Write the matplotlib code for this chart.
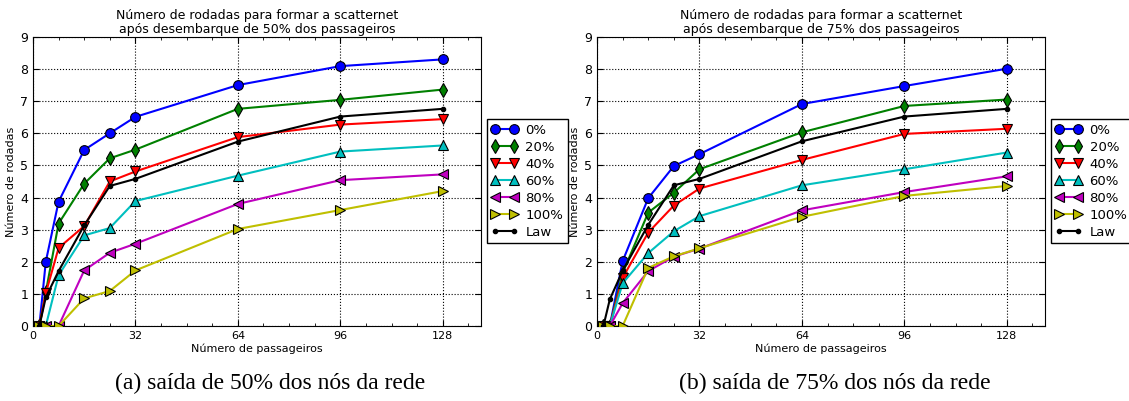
import matplotlib
matplotlib.use('Agg')
import matplotlib.pyplot as plt
from matplotlib.ticker import MultipleLocator

passageiros = [2, 4, 8, 16, 24, 32, 64, 96, 128]
series_labels = ['0%', '20%', '40%', '60%', '80%', '100%', 'Law']

# saida de 50% dos nos
rodadas_50 = {
    '0%':   [0, 2.00, 3.87, 5.48, 6.00, 6.51, 7.50, 8.09, 8.30],
    '20%':  [0, 1.05, 3.19, 4.43, 5.22, 5.49, 6.76, 7.04, 7.36],
    '40%':  [0, 1.02, 2.43, 3.11, 4.50, 4.81, 5.88, 6.27, 6.44],
    '60%':  [0, 0.00, 1.58, 2.82, 3.05, 3.89, 4.68, 5.43, 5.62],
    '80%':  [0, 0.00, 0.00, 1.73, 2.28, 2.56, 3.80, 4.54, 4.72],
    '100%': [0, 0.00, 0.00, 0.86, 1.09, 1.73, 3.02, 3.61, 4.20],
    'Law':  [0, 0.89, 1.71, 3.13, 4.36, 4.58, 5.74, 6.52, 6.76],
}

# saida de 75% dos nos
rodadas_75 = {
    '0%':   [0, 0.00, 2.02, 3.98, 4.98, 5.35, 6.91, 7.47, 8.01],
    '20%':  [0, 0.00, 1.65, 3.53, 4.15, 4.88, 6.03, 6.85, 7.05],
    '40%':  [0, 0.00, 1.50, 2.91, 3.75, 4.28, 5.17, 5.98, 6.14],
    '60%':  [0, 0.00, 1.33, 2.27, 2.95, 3.42, 4.38, 4.88, 5.40],
    '80%':  [0, 0.00, 0.71, 1.71, 2.16, 2.41, 3.60, 4.17, 4.66],
    '100%': [0, 0.00, 0.00, 1.81, 2.17, 2.42, 3.40, 4.05, 4.36],
    'Law':  [0, 0.83, 1.72, 3.15, 4.38, 4.58, 5.75, 6.52, 6.76],
}

titulos = ['Número de rodadas para formar a scatternet\napós desembarque de 50% dos passageiros',
           'Número de rodadas para formar a scatternet\napós desembarque de 75% dos passageiros']
legendas = ['(a) saída de 50% dos nós da rede', '(b) saída de 75% dos nós da rede']

cores = {'0%': '#0000ff', '20%': '#008000', '40%': '#ff0000', '60%': '#00bfbf',
         '80%': '#bf00bf', '100%': '#bfbf00', 'Law': '#000000'}
marcadores = {'0%': 'o', '20%': 'd', '40%': 'v', '60%': '^', '80%': '<', '100%': '>', 'Law': '.'}

plt.rcParams['font.family'] = ['DejaVu Sans']
plt.rcParams['xtick.direction'] = 'in'
plt.rcParams['ytick.direction'] = 'in'
plt.rcParams['xtick.top'] = True
plt.rcParams['ytick.right'] = True

fig = plt.figure(figsize=(11.29, 4.01), dpi=100)
axes = [fig.add_axes([0.0292, 0.187, 0.397, 0.721]),
        fig.add_axes([0.5288, 0.187, 0.397, 0.721])]

for ax, dados, titulo, legenda in zip(axes, [rodadas_50, rodadas_75], titulos, legendas):
    for nome in series_labels:
        if nome == 'Law':
            ax.plot(passageiros, dados[nome], color=cores[nome], marker='.', ms=6,
                    lw=1.5, label=nome, zorder=3)
        else:
            ax.plot(passageiros, dados[nome], color=cores[nome], marker=marcadores[nome],
                    ms=7, mec='black', mew=0.8, lw=1.5, label=nome, zorder=3)
    ax.set_xlim(0, 140)
    ax.set_ylim(0, 9)
    ax.set_xticks([0, 32, 64, 96, 128])
    ax.xaxis.set_minor_locator(MultipleLocator(8))
    ax.set_yticks(range(10))
    ax.tick_params(which='major', length=4, labelsize=8)
    ax.tick_params(which='minor', length=2)
    ax.tick_params(axis='y', labelsize=9)
    ax.grid(True, color='black', linestyle=':', linewidth=0.8)
    ax.set_title(titulo, fontsize=9, linespacing=1.1, pad=3)
    ax.set_xlabel('Número de passageiros', fontsize=8, labelpad=2)
    ax.set_ylabel('Número de rodadas', fontsize=8, labelpad=3)
    ax.legend(loc='center left', bbox_to_anchor=(1.012, 0.5), numpoints=2, fontsize=9.5,
              fancybox=False, edgecolor='black', framealpha=1, handlelength=2.0,
              borderpad=0.35, labelspacing=0.3, handletextpad=0.6, borderaxespad=0)
    pos = ax.get_position()
    fig.text(pos.x0 + pos.width * 0.53, 0.045, legenda, ha='center', va='center',
             fontsize=17, family='Liberation Serif')

fig.savefig('out.png', dpi=100)
